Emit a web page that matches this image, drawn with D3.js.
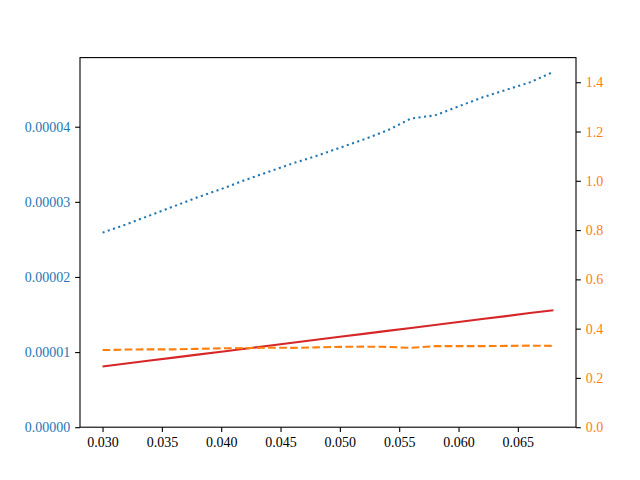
<!DOCTYPE html>
<html>
<head>
  <style type="text/css">
    body { margin: 0; background: #fff; }
    svg text { font-family: "Liberation Serif", "DejaVu Serif", serif; font-size: 14px; }
    .frame { fill: none; stroke: #000; stroke-width: 1.1px; }
  </style>
</head>
<body>
  <div id="chart"></div>
  <script src="https://cdnjs.cloudflare.com/ajax/libs/d3/7.8.5/d3.min.js"></script>
  <script type="text/javascript">
  // x positions
  var xs = [0.030, 0.032, 0.034, 0.036, 0.038, 0.040, 0.042, 0.044, 0.046, 0.048,
            0.050, 0.052, 0.054, 0.056, 0.058, 0.060, 0.062, 0.064, 0.066, 0.068];

  // left axis series
  var dotted = [2.59e-5, 2.70e-5, 2.82e-5, 2.94e-5, 3.06e-5, 3.17e-5, 3.29e-5, 3.40e-5, 3.51e-5, 3.61e-5,
                3.72e-5, 3.83e-5, 3.95e-5, 4.11e-5, 4.15e-5, 4.27e-5, 4.39e-5, 4.49e-5, 4.59e-5, 4.73e-5];
  var solid = [0.808e-5, 0.847e-5, 0.887e-5, 0.926e-5, 0.966e-5, 1.005e-5, 1.045e-5, 1.084e-5, 1.124e-5, 1.163e-5,
               1.203e-5, 1.242e-5, 1.282e-5, 1.321e-5, 1.361e-5, 1.400e-5, 1.440e-5, 1.479e-5, 1.519e-5, 1.558e-5];

  // right axis series
  var dashed = [0.313, 0.315, 0.316, 0.316, 0.318, 0.320, 0.321, 0.323, 0.322, 0.324,
                0.326, 0.327, 0.326, 0.322, 0.329, 0.329, 0.329, 0.330, 0.331, 0.330];

  var xTicks = [0.030, 0.035, 0.040, 0.045, 0.050, 0.055, 0.060, 0.065];
  var leftTicks = [0, 0.00001, 0.00002, 0.00003, 0.00004];
  var rightTicks = [0, 0.2, 0.4, 0.6, 0.8, 1.0, 1.2, 1.4];

  var cfg = { w: 640, h: 480, left: 80, right: 576, top: 57.6, bottom: 427.2 };
  var blue = '#1f77b4', orange = '#ff7f0e', red = '#d62728';
  var lw = 2.08;

  var svg = d3.select('#chart').append('svg')
    .attr('width', cfg.w)
    .attr('height', cfg.h);

  var xSc = d3.scaleLinear().domain([0.0281, 0.0699]).range([cfg.left, cfg.right]);
  var yL = d3.scaleLinear().domain([0, 4.92e-5]).range([cfg.bottom, cfg.top]);
  var yR = d3.scaleLinear().domain([0, 1.5]).range([cfg.bottom, cfg.top]);

  var styleAxis = function(g, color) {
    g.select('.domain').remove();
    g.selectAll('line').attr('stroke', '#000').attr('stroke-width', 1.1);
    g.selectAll('text').attr('fill', color).style('font-size', '14px')
      .attr('font-family', '"Liberation Serif", "DejaVu Serif", serif');
  };

  var mkLine = function(ySc) {
    return d3.line()
      .x(function(d, i) { return xSc(xs[i]) })
      .y(function(d) { return ySc(d) });
  };

  svg.append('path').datum(solid)
    .attr('d', mkLine(yL))
    .attr('fill', 'none').attr('stroke', red).attr('stroke-width', lw);

  svg.append('path').datum(dotted)
    .attr('d', mkLine(yL))
    .attr('fill', 'none').attr('stroke', blue).attr('stroke-width', lw)
    .attr('stroke-dasharray', '2.08,3.44');

  svg.append('path').datum(dashed)
    .attr('d', mkLine(yR))
    .attr('fill', 'none').attr('stroke', orange).attr('stroke-width', lw)
    .attr('stroke-dasharray', '7.71,3.33');

  svg.append('rect').attr('class', 'frame')
    .attr('x', cfg.left).attr('y', cfg.top)
    .attr('width', cfg.right - cfg.left).attr('height', cfg.bottom - cfg.top);

  svg.append('g')
    .attr('transform', 'translate(0,' + cfg.bottom + ')')
    .call(d3.axisBottom(xSc).tickValues(xTicks).tickSize(4.86).tickPadding(4.86)
      .tickFormat(function(d) { return d.toFixed(3) }))
    .call(styleAxis, '#000');

  svg.append('g')
    .attr('transform', 'translate(' + cfg.left + ',0)')
    .call(d3.axisLeft(yL).tickValues(leftTicks).tickSize(4.86).tickPadding(4.86)
      .tickFormat(function(d) { return d.toFixed(5) }))
    .call(styleAxis, blue);

  svg.append('g')
    .attr('transform', 'translate(' + cfg.right + ',0)')
    .call(d3.axisRight(yR).tickValues(rightTicks).tickSize(4.86).tickPadding(4.86)
      .tickFormat(function(d) { return d.toFixed(1) }))
    .call(styleAxis, orange);
  </script>
</body>
</html>
